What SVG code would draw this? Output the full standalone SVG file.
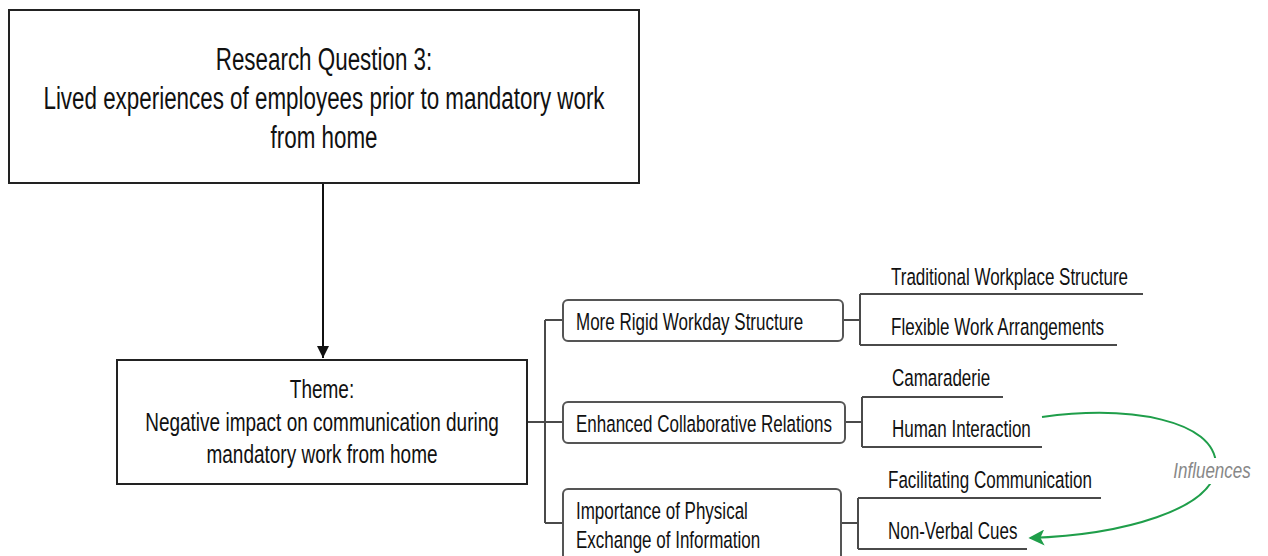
<svg xmlns="http://www.w3.org/2000/svg" width="1268" height="556" viewBox="0 0 1268 556">
<style>
text{font-family:"Liberation Sans",Arial,sans-serif;fill:#111}
.t1{font-size:22.4px;text-anchor:middle}
.t2{font-size:19px;text-anchor:middle}
.t3{font-size:17px}
.inf{font-size:17px;font-style:italic;fill:#888;text-anchor:middle}
.box{fill:#fff;stroke:#222;stroke-width:2}
.rbox{fill:#fff;stroke:#555;stroke-width:2}
.ln{fill:none;stroke:#4a4a4a;stroke-width:2}
</style>
<defs>
<marker id="ab" viewBox="0 0 10 10" refX="10" refY="5" markerWidth="12" markerHeight="13" markerUnits="userSpaceOnUse" orient="auto"><path d="M0,0 L10,5 L0,10 z" fill="#111"/></marker>
<marker id="ag" viewBox="0 0 10 10" refX="9" refY="5" markerWidth="16" markerHeight="16" markerUnits="userSpaceOnUse" orient="auto"><path d="M0,0 L10,5 L0,10 L2.5,5 z" fill="#1f9e4a"/></marker>
</defs>
<rect width="1268" height="556" fill="#fff"/>
<g id="connectors">
<line x1="323" y1="183" x2="323" y2="358" stroke="#111" stroke-width="2" marker-end="url(#ab)"/>
<path class="ln" d="M527,422 H545 M545,320 V523 M545,320 H563 M545,422 H563 M545,523 H563"/>
<path class="ln" d="M843,320 H860 M860,294 V345 M860,294 H1143 M860,345 H1117"/>
<path class="ln" d="M845,422 H862 M862,397 V447 M862,397 H1003 M862,447 H1042"/>
<path class="ln" d="M841,523 H858 M858,498 V549 M858,498 H1101 M858,549 H1027"/>
<path d="M1042,417 C1130,405 1215,420 1216,465 C1216,510 1120,535 1030,538" fill="none" stroke="#1f9e4a" stroke-width="2" marker-end="url(#ag)"/>
<rect x="1170" y="458" width="84" height="26" fill="#fff"/>
<text class="inf" transform="translate(1212,478) scale(1,1.3)">Influences</text>
</g>
<g id="rq">
<rect class="box" x="9" y="10" width="630" height="173"/>
<text class="t1" transform="translate(324,70) scale(1,1.36)"><tspan x="0" y="0">Research Question 3:</tspan><tspan x="0" dy="28.7">Lived experiences of employees prior to mandatory work</tspan><tspan x="0" dy="28.7">from home</tspan></text>
</g>
<g id="theme">
<rect class="box" x="117" y="360" width="410" height="124"/>
<text class="t2" transform="translate(322,398) scale(1,1.33)"><tspan x="0" y="0">Theme:</tspan><tspan x="0" dy="24.5">Negative impact on communication during</tspan><tspan x="0" dy="24.5">mandatory work from home</tspan></text>
</g>
<g id="rigid">
<rect class="rbox" x="563" y="300" width="280" height="41" rx="5"/>
<text class="t3" transform="translate(576,330) scale(1,1.37)">More Rigid Workday Structure</text>
</g>
<g id="collab">
<rect class="rbox" x="563" y="402" width="282" height="41" rx="5"/>
<text class="t3" transform="translate(576,432) scale(1,1.37)">Enhanced Collaborative Relations</text>
</g>
<g id="physical">
<rect class="rbox" x="563" y="489" width="278" height="80" rx="5"/>
<text class="t3" transform="translate(576,519) scale(1,1.37)"><tspan x="0" y="0">Importance of Physical</tspan><tspan x="0" dy="21.3">Exchange of Information</tspan></text>
</g>
<g id="traditional"><text class="t3" transform="translate(891,285) scale(1,1.37)">Traditional Workplace Structure</text></g>
<g id="flexible"><text class="t3" transform="translate(891,335) scale(1,1.37)">Flexible Work Arrangements</text></g>
<g id="camaraderie"><text class="t3" transform="translate(892,386) scale(1,1.37)">Camaraderie</text></g>
<g id="human"><text class="t3" transform="translate(892,437) scale(1,1.37)">Human Interaction</text></g>
<g id="facilitating"><text class="t3" transform="translate(888,488) scale(1,1.37)">Facilitating Communication</text></g>
<g id="nonverbal"><text class="t3" transform="translate(888,539) scale(1,1.37)">Non-Verbal Cues</text></g>
</svg>
